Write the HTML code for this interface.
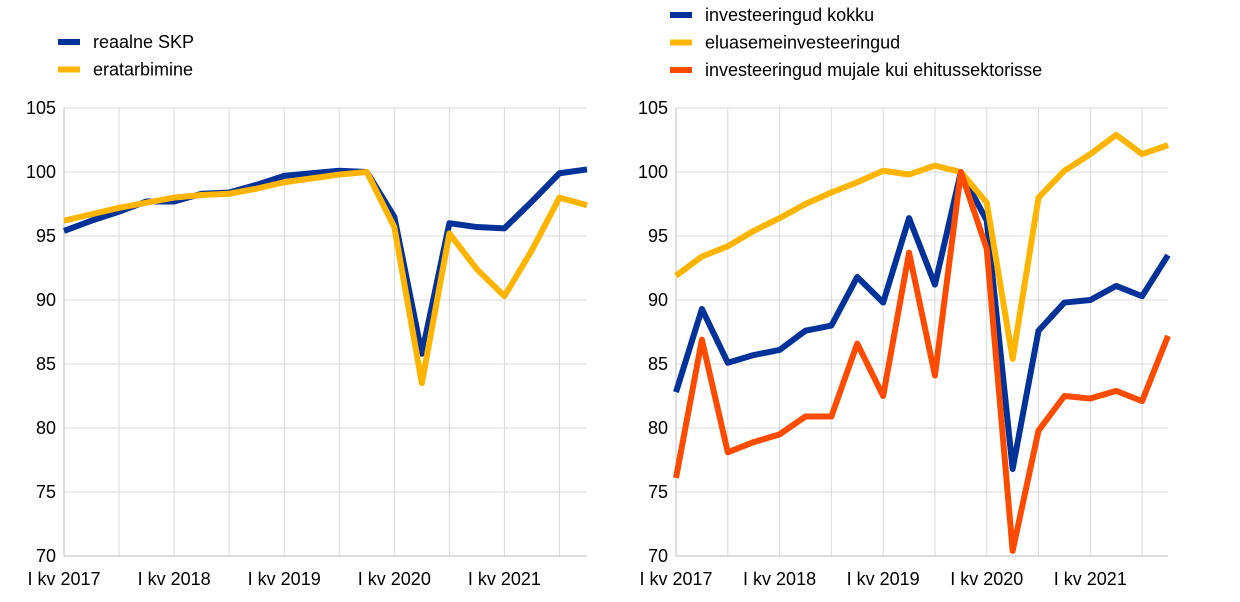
<!DOCTYPE html>
<html><head><meta charset="utf-8"><style>
body{margin:0;background:#fff;}
svg{display:block;font-family:"Liberation Sans",sans-serif;}
</style></head><body>
<svg id="c" width="1240" height="602"></svg>
<script>
const quarters = ["2017Q1","2017Q2","2017Q3","2017Q4","2018Q1","2018Q2","2018Q3","2018Q4","2019Q1","2019Q2","2019Q3","2019Q4","2020Q1","2020Q2","2020Q3","2020Q4","2021Q1","2021Q2","2021Q3","2021Q4"];
const xLabels = ["I kv 2017","I kv 2018","I kv 2019","I kv 2020","I kv 2021"];
const yTicks = [70,75,80,85,90,95,100,105];
const gdp = [95.4,96.2,96.9,97.7,97.7,98.3,98.4,99.0,99.7,99.9,100.1,100.0,96.5,85.8,96.0,95.7,95.6,97.7,99.9,100.2];
const consumption = [96.2,96.7,97.2,97.6,98.0,98.2,98.3,98.7,99.2,99.5,99.8,100.0,95.7,83.5,95.2,92.4,90.3,93.9,98.0,97.4];
const investTotal = [82.8,89.3,85.1,85.7,86.1,87.6,88.0,91.8,89.8,96.4,91.2,100.0,96.2,76.8,87.6,89.8,90.0,91.1,90.3,93.5];
const housing = [91.9,93.4,94.2,95.4,96.4,97.5,98.4,99.2,100.1,99.8,100.5,100.0,97.6,85.4,98.0,100.1,101.4,102.9,101.4,102.1];
const nonConstr = [76.1,86.9,78.1,78.9,79.5,80.9,80.9,86.6,82.5,93.7,84.1,100.0,94.0,70.4,79.8,82.5,82.3,82.9,82.1,87.2];

const svg=document.getElementById('c');
const NS='http://www.w3.org/2000/svg';
function mk(t,a,p){const e=document.createElementNS(NS,t);for(const k in a)e.setAttribute(k,a[k]);(p||svg).appendChild(e);return e;}
const yTop=108,yBot=556,yMin=70,yMax=105;
const yS=v=>yBot-(v-yMin)/(yMax-yMin)*(yBot-yTop);

function panel(name,x0,x1,series,legY0){
  const g=mk('g',{});
  
  
  const n=quarters.length;
  const xS=i=>x0+i*(x1-x0)/(n-1);
  for(let i=2;i<n;i+=2){
    const l=mk('line',{x1:xS(i),x2:xS(i),y1:yTop,y2:yBot,stroke:'#d9d9d9','stroke-width':1},g);
    
    
  }
  yTicks.forEach(v=>{
    const l=mk('line',{x1:x0,x2:x1,y1:yS(v),y2:yS(v),stroke:'#d9d9d9','stroke-width':1},g);
    
    
    const t=mk('text',{x:x0-8,y:yS(v)+6,'text-anchor':'end','font-size':18,fill:'#000'},g);
    t.textContent=v;
    
    
  });
  const ax=mk('line',{x1:x0,x2:x0,y1:yTop,y2:yBot,stroke:'#bfbfbf','stroke-width':1},g);
  
  
  const bx=mk('line',{x1:x0,x2:x1,y1:yBot,y2:yBot,stroke:'#bfbfbf','stroke-width':1},g);
  
  
  xLabels.forEach((lab,k)=>{
    const t=mk('text',{x:xS(k*4),y:585,'text-anchor':'middle','font-size':18,fill:'#000'},g);
    t.textContent=lab;
    
    
  });
  series.forEach(s=>{
    const p=mk('polyline',{points:s.data.map((v,i)=>xS(i)+','+yS(v)).join(' '),fill:'none',stroke:s.color,'stroke-width':6,'stroke-linejoin':'round'},g);
    
    
  });
  series.forEach((s,k)=>{
    const y=legY0+k*27.5;
    const lg=mk('g',{},g);
    
    
    mk('line',{x1:x0-6,x2:x0+16,y1:y,y2:y,stroke:s.color,'stroke-width':6},lg);
    const t=mk('text',{x:x0+29,y:y+6,'font-size':18,fill:'#000'},lg);
    t.textContent=s.label;
  });
}
panel('left-panel',64,587,[
  {name:'gdp-line',label:'reaalne SKP',color:'#003299',data:gdp},
  {name:'consumption-line',label:'eratarbimine',color:'#ffb400',data:consumption}],42);
panel('right-panel',676,1168,[
  {name:'investment-total-line',label:'investeeringud kokku',color:'#003299',data:investTotal},
  {name:'housing-investment-line',label:'eluasemeinvesteeringud',color:'#ffb400',data:housing},
  {name:'non-construction-investment-line',label:'investeeringud mujale kui ehitussektorisse',color:'#ff4b00',data:nonConstr}],15);
</script>
</body></html>
